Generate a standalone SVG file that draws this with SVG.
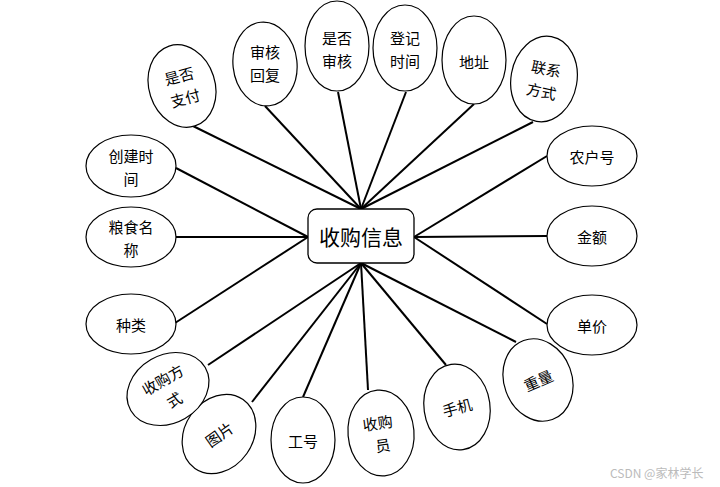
<svg xmlns="http://www.w3.org/2000/svg" width="720" height="487" viewBox="0 0 720 487">
<style>
.e{fill:#fff;stroke:#000;stroke-width:1.2}
.t{font-family:"Noto Sans CJK SC","Noto Sans",sans-serif;font-size:15px;fill:#000;text-anchor:middle;dominant-baseline:central}
.c{stroke:#000;stroke-width:2;fill:none}
.w{font-family:"Noto Sans CJK SC","Noto Sans",sans-serif;font-size:12px;fill:#bbb}
</style>
<rect width="720" height="487" fill="#fff"/>
<g id="connectors" class="c">
<line x1="193" y1="126" x2="361" y2="209"/>
<line x1="265" y1="106" x2="361" y2="209"/>
<line x1="338" y1="92" x2="361" y2="209"/>
<line x1="406" y1="92" x2="361" y2="209"/>
<line x1="474" y1="104" x2="361" y2="209"/>
<line x1="533" y1="122" x2="361" y2="209"/>
<line x1="547" y1="156" x2="414" y2="237"/>
<line x1="547" y1="236" x2="414" y2="237"/>
<line x1="547" y1="324" x2="414" y2="237"/>
<line x1="516" y1="342" x2="361" y2="263"/>
<line x1="446" y1="365" x2="361" y2="263"/>
<line x1="368" y1="390" x2="361" y2="263"/>
<line x1="303" y1="397" x2="361" y2="263"/>
<line x1="252" y1="402" x2="361" y2="263"/>
<line x1="208" y1="365" x2="361" y2="263"/>
<line x1="175" y1="323" x2="308" y2="237"/>
<line x1="175" y1="237" x2="308" y2="237"/>
<line x1="176" y1="168" x2="308" y2="237"/>
</g>
<g id="center">
<rect x="308" y="209" width="106" height="54" rx="9" fill="#fff" stroke="#000" stroke-width="1.3"/>
<text class="t" x="361" y="236" style="font-size:21px">收购信息</text>
</g>
<g id="n_sfzf" transform="translate(182,86)">
<ellipse class="e" rx="33" ry="42" transform="rotate(-18)"/>
<g transform="rotate(-15)"><text class="t" x="0" y="-11">是否</text><text class="t" x="0" y="12">支付</text></g>
</g>
<g id="n_shhf" transform="translate(265,64)">
<ellipse class="e" rx="32" ry="42" transform="rotate(-6)"/>
<text class="t" x="0" y="-13">审核</text><text class="t" x="0" y="10">回复</text>
</g>
<g id="n_sfsh" transform="translate(337,46)">
<ellipse class="e" rx="32" ry="45"/>
<text class="t" x="0" y="-9">是否</text><text class="t" x="0" y="14">审核</text>
</g>
<g id="n_djsj" transform="translate(405,48)">
<ellipse class="e" rx="32" ry="43"/>
<text class="t" x="0" y="-11">登记</text><text class="t" x="0" y="12">时间</text>
</g>
<g id="n_dz" transform="translate(474,60)">
<ellipse class="e" rx="32" ry="44"/>
<text class="t" x="0" y="1">地址</text>
</g>
<g id="n_lxfs" transform="translate(544,79)">
<ellipse class="e" rx="33" ry="43" transform="rotate(10)"/>
<g transform="rotate(12)"><text class="t" x="0" y="-11">联系</text><text class="t" x="0" y="12">方式</text></g>
</g>
<g id="n_nhh" transform="translate(592,156)">
<ellipse class="e" rx="45" ry="30"/>
<text class="t" x="0" y="0">农户号</text>
</g>
<g id="n_je" transform="translate(592,236)">
<ellipse class="e" rx="45" ry="30"/>
<text class="t" x="0" y="0">金额</text>
</g>
<g id="n_dj" transform="translate(592,325)">
<ellipse class="e" rx="45" ry="30"/>
<text class="t" x="0" y="0">单价</text>
</g>
<g id="n_zl" transform="translate(538,380)">
<ellipse class="e" rx="34" ry="42" transform="rotate(-20)"/>
<text class="t" x="0" y="0" transform="rotate(-24)">重量</text>
</g>
<g id="n_sj" transform="translate(457,407)">
<ellipse class="e" rx="33" ry="43" transform="rotate(-8)"/>
<text class="t" x="0" y="0" transform="rotate(-15)">手机</text>
</g>
<g id="n_sgy" transform="translate(381,433)">
<ellipse class="e" rx="33" ry="43" transform="rotate(-5)"/>
<g transform="rotate(-8)"><text class="t" x="-2" y="-11">收购</text><text class="t" x="0" y="12">员</text></g>
</g>
<g id="n_gh" transform="translate(303,440)">
<ellipse class="e" rx="32" ry="43"/>
<text class="t" x="0" y="0">工号</text>
</g>
<g id="n_tp" transform="translate(219,434)">
<ellipse class="e" rx="34" ry="42" transform="rotate(35)"/>
<text class="t" x="0" y="0" transform="rotate(-35)">图片</text>
</g>
<g id="n_sgfs" transform="translate(168,389)">
<ellipse class="e" rx="43" ry="34" transform="rotate(-30)"/>
<g transform="rotate(-30)"><text class="t" x="0" y="-11">收购方</text><text class="t" x="0" y="12">式</text></g>
</g>
<g id="n_zlei" transform="translate(131,324)">
<ellipse class="e" rx="45" ry="30"/>
<text class="t" x="0" y="0">种类</text>
</g>
<g id="n_lsmc" transform="translate(131,237)">
<ellipse class="e" rx="45" ry="30"/>
<text class="t" x="0" y="-11">粮食名</text><text class="t" x="0" y="12">称</text>
</g>
<g id="n_cjsj" transform="translate(131,166)">
<ellipse class="e" rx="45" ry="31"/>
<text class="t" x="0" y="-11">创建时</text><text class="t" x="0" y="12">间</text>
</g>
<text class="w" x="610" y="478">CSDN @家林学长</text>
</svg>
